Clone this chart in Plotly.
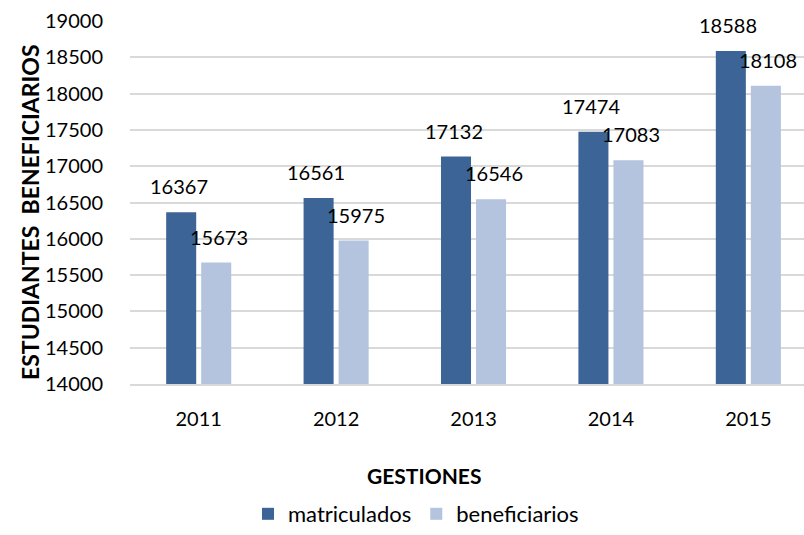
import plotly.graph_objects as go

years = ["2011", "2012", "2013", "2014", "2015"]
matriculados = [16367, 16561, 17132, 17474, 18588]
beneficiarios = [15673, 15975, 16546, 17083, 18108]
yticks = [14000, 14500, 15000, 15500, 16000, 16500, 17000, 17500, 18000, 18500, 19000]

FONT = "Lato"
C1 = "#3C6496"
C2 = "#B4C3DE"
L, R, T, B = 130, 0, 21, 151
PW, PH = 804 - L - R, 535 - T - B


def px_x(px):
    return (px - L) / PW


def px_y(py):
    return (T + PH - py) / PH


fig = go.Figure()
fig.add_trace(go.Bar(x=years, y=matriculados, name="matriculados", marker_color=C1,
                     marker_line_width=0))
fig.add_trace(go.Bar(x=years, y=beneficiarios, name="beneficiarios", marker_color=C2,
                     marker_line_width=0))

annotations = []
for i, y in enumerate(years):
    annotations.append(dict(x=i, y=matriculados[i], xref="x", yref="y", text=str(matriculados[i]),
                            showarrow=False, xshift=-20, yshift=12, yanchor="bottom",
                            font=dict(family=FONT, size=20, color="#000")))
    annotations.append(dict(x=i, y=beneficiarios[i], xref="x", yref="y", text=str(beneficiarios[i]),
                            showarrow=False, xshift=20, yshift=12, yanchor="bottom",
                            font=dict(family=FONT, size=20, color="#000")))
annotations.append(dict(x=px_x(424), y=px_y(475), xref="paper", yref="paper",
                        text="<b>GESTIONES</b>", showarrow=False, yanchor="middle",
                        font=dict(family=FONT, size=21, color="#000")))
annotations.append(dict(x=px_x(30), y=px_y(212), xref="paper", yref="paper",
                        text="<b>ESTUDIANTES  BENEFICIARIOS</b>", textangle=-90,
                        showarrow=False, xanchor="center", yanchor="middle",
                        font=dict(family=FONT, size=23, color="#000")))

fig.update_layout(
    width=804, height=535,
    margin=dict(l=L, r=R, t=T, b=B),
    paper_bgcolor="white", plot_bgcolor="white",
    barmode="group", bargap=0.49, bargroupgap=0.143,
    font=dict(family=FONT, size=20, color="#000"),
    showlegend=True,
    legend=dict(orientation="h", x=px_x(416), xanchor="center", y=px_y(535), yanchor="bottom",
                font=dict(family=FONT, size=22), itemwidth=30),
    xaxis=dict(type="category", range=[-0.5, 4.405], showgrid=False, showline=True,
               linecolor="#D9D9D9", linewidth=2, ticks="outside", ticklen=16,
               tickcolor="rgba(0,0,0,0)", tickfont=dict(size=20), automargin=False),
    yaxis=dict(range=[14000, 19000], tickvals=yticks, tickformat="d", showgrid=True,
               gridcolor="#D9D9D9", gridwidth=2, zeroline=False, showline=False,
               ticks="outside", ticklen=22, tickcolor="rgba(0,0,0,0)",
               tickfont=dict(size=20), automargin=False),
    annotations=annotations,
)
fig.write_html("out.html", config={"displayModeBar": False},
               post_script="document.body.style.margin='0';document.body.style.overflow='hidden';")
